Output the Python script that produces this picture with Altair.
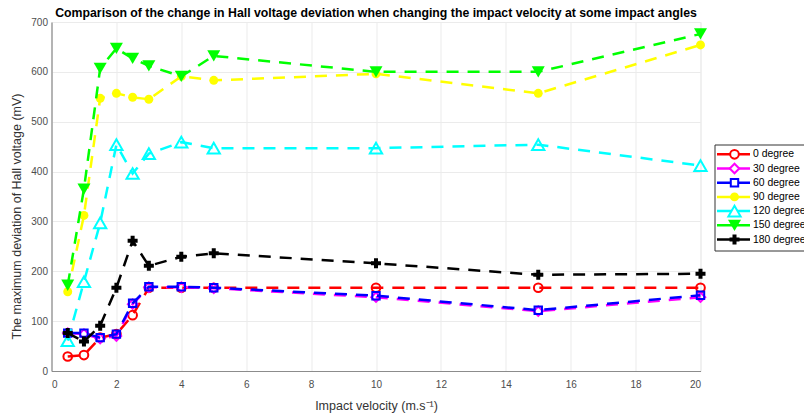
import altair as alt
import pandas as pd

velocity = [0.5, 1, 1.5, 2, 2.5, 3, 4, 5, 10, 15, 20]

series_names = ["0 degree", "30 degree", "60 degree", "90 degree",
                "120 degree", "150 degree", "180 degree"]
deg0   = [29, 32, 67, 74, 112, 167, 167, 167, 167, 167, 167]
deg30  = [76, 74, 65, 70, 134, 168, 168, 166, 148, 120, 148]
deg60  = [76, 76, 67, 74, 136, 169, 169, 167, 151, 122, 152]
deg90  = [159, 312, 547, 557, 549, 545, 591, 583, 596, 557, 654]
deg120 = [61, 179, 297, 454, 396, 436, 459, 447, 447, 454, 412]
deg150 = [172, 365, 607, 647, 627, 612, 591, 632, 600, 600, 676]
deg180 = [76, 59, 91, 167, 261, 211, 229, 236, 216, 193, 195]
all_values = [deg0, deg30, deg60, deg90, deg120, deg150, deg180]

colors = ["#ff0000", "#ff00ff", "#0000ff", "#ffff00", "#00ffff", "#00ff00", "#000000"]
shapes = ["circle", "diamond", "square", "circle", "triangle-up", "triangle-down", "cross"]
filled = [False, False, False, True, False, True, True]
sizes = [75, 90, 55, 80, 150, 170, 100]

FONT = "Liberation Sans"
DASH = [12, 9]
W, H = 649, 349
PAD_L, PAD_T = 51.5, 22

rows = []
for name, vals in zip(series_names, all_values):
    for v, y in zip(velocity, vals):
        rows.append({"series": name, "v": v, "y": y})
df = pd.DataFrame(rows)

xscale = alt.Scale(domain=[0, 20], nice=False)
yscale = alt.Scale(domain=[0, 700], nice=False)

layers = []
for i, name in enumerate(series_names):
    sub = alt.Chart(df).transform_filter(alt.datum.series == name)
    line = sub.mark_line(strokeDash=DASH, strokeWidth=2.5, color=colors[i]).encode(
        x=alt.X("v:Q", scale=xscale,
                axis=alt.Axis(values=list(range(0, 21, 2)), title="Impact velocity (m.s⁻¹)")),
        y=alt.Y("y:Q", scale=yscale,
                axis=alt.Axis(values=list(range(0, 701, 100)),
                              title="The maximum deviation of Hall voltage (mV)",
                              titleX=-35, titleY=194, titleBaseline="middle",
                              titleAlign="center", titleAngle=270)),
    )
    if filled[i]:
        pt = sub.mark_point(shape=shapes[i], filled=True, color=colors[i], size=sizes[i], opacity=1)
    else:
        pt = sub.mark_point(shape=shapes[i], filled=False, color=colors[i], size=sizes[i],
                            strokeWidth=2, opacity=1)
    pt = pt.encode(x=alt.X("v:Q", scale=xscale), y=alt.Y("y:Q", scale=yscale))
    layers += [line, pt]

main = alt.layer(*layers)

# legend, placed to the right of the plot area on its own pixel-unit scales
leg = pd.DataFrame({"series": series_names, "r": list(range(7))})
lx = alt.Scale(domain=[0, W], nice=False, zero=False)
ly = alt.Scale(domain=[0, H], nice=False, zero=False, reverse=True)
LX0 = 663.5          # legend box left edge
LX1 = 770            # beyond the page edge (box is cut off like the original)
LY0, LY1 = 123, 229  # box top / bottom
ROW0, ROWSTEP = 132.3, 14.2

edges = pd.DataFrame({"x0": [LX0, LX0, LX0], "x1": [LX1, LX1, LX0],
                      "y0": [LY0, LY1, LY0], "y1": [LY0, LY1, LY1]})
leg_layers = [
    alt.Chart(edges).mark_rule(color="#333333", strokeWidth=1).encode(
        x=alt.X("x0:Q", scale=lx, axis=None), x2="x1:Q",
        y=alt.Y("y0:Q", scale=ly, axis=None), y2="y1:Q")
]
legc = alt.Chart(leg).transform_calculate(
    yy=f"{ROW0} + {ROWSTEP} * datum.r",
    a=f"{LX0 + 2}", b=f"{LX0 + 35}", m=f"{LX0 + 19.5}", t=f"{LX0 + 38}")
for i, name in enumerate(series_names):
    sub = legc.transform_filter(alt.datum.series == name)
    leg_layers.append(sub.mark_rule(strokeWidth=2.5, color=colors[i]).encode(
        x=alt.X("a:Q", scale=lx, axis=None), x2="b:Q",
        y=alt.Y("yy:Q", scale=ly, axis=None)))
    if filled[i]:
        p = sub.mark_point(shape=shapes[i], filled=True, color=colors[i], size=sizes[i], opacity=1)
    else:
        p = sub.mark_point(shape=shapes[i], filled=False, color=colors[i], size=sizes[i],
                           strokeWidth=2, opacity=1, fill="white", fillOpacity=1)
    leg_layers.append(p.encode(
        x=alt.X("m:Q", scale=lx, axis=None),
        y=alt.Y("yy:Q", scale=ly, axis=None)))
leg_layers.append(legc.mark_text(align="left", baseline="middle", fontSize=10.4,
                                 font=FONT, color="#000000").encode(
    x=alt.X("t:Q", scale=lx, axis=None), y=alt.Y("yy:Q", scale=ly, axis=None),
    text="series:N"))
legend_layer = alt.layer(*leg_layers)

chart = alt.layer(main, legend_layer).resolve_scale(
    x="independent", y="independent"
).properties(
    width=W, height=H,
    title=alt.TitleParams(
        "Comparison of the change in Hall voltage deviation when changing the impact velocity at some impact angles",
        anchor="middle", fontSize=12.3, fontWeight="bold", font=FONT, color="#000000",
        offset=1, dy=3),
    autosize=alt.AutoSizeParams(type="none"),
    padding={"left": PAD_L, "top": PAD_T, "right": 804 - PAD_L - W, "bottom": 414 - PAD_T - H},
).configure_view(stroke="#ebebeb", strokeWidth=1).configure_axis(
    grid=True, gridColor="#ebebeb", gridWidth=1,
    domainColor="#8c8c8c", domainWidth=1.2,
    ticks=False,
    labelFont=FONT, labelFontSize=10, labelColor="#4d4d4d",
    titleFont=FONT, titleFontSize=12.5, titleFontWeight="normal", titleColor="#333333",
).configure_axisX(labelPadding=8, titlePadding=10).configure_axisY(labelPadding=4)

chart.save("out.html", embed_options={"renderer": "svg", "actions": False})
